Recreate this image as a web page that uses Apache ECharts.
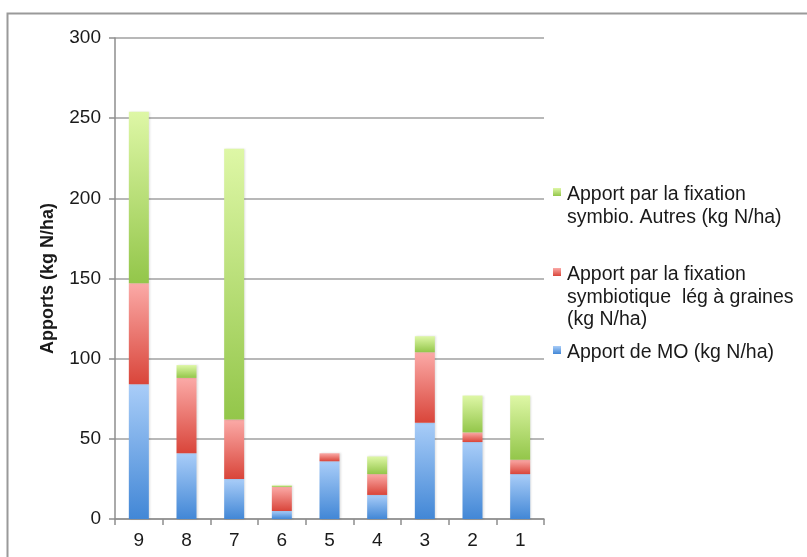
<!DOCTYPE html>
<html>
<head>
<meta charset="utf-8">
<script src="https://cdn.jsdelivr.net/npm/echarts@6/dist/echarts.min.js"></script>
<style>
  html, body { margin: 0; padding: 0; background: #fff; }
  #chart { width: 807px; height: 557px; }
</style>
</head>
<body>
<div id="chart"></div>
<script>
// Parcels, listed from 9 down to 1
const categories = ['9', '8', '7', '6', '5', '4', '3', '2', '1'];

// Nitrogen inputs (kg N/ha) stacked per parcel
const apportMO      = [84, 41, 25, 5, 36, 15, 60, 48, 28];
const fixLegGraines = [63, 47, 37, 15, 5, 13, 44, 6, 9];
const fixAutres     = [107, 8, 169, 1, 0, 11, 10, 23, 40];

const seriesNames = [
  'Apport de MO (kg N/ha)',
  'Apport par la fixation\nsymbiotique  lég à graines\n(kg N/ha)',
  'Apport par la fixation\nsymbio. Autres (kg N/ha)'
];

const yTicks = { min: 0, max: 300, interval: 50 };

const FONT = '"Liberation Sans", Arial, sans-serif';

function grad(top, bottom) {
  return new echarts.graphic.LinearGradient(0, 0, 0, 1, [
    { offset: 0, color: top },
    { offset: 1, color: bottom }
  ]);
}

const palettes = [
  { top: '#a9cdf8', bottom: '#4287d6' },
  { top: '#fbaaa7', bottom: '#d9453a' },
  { top: '#def7a6', bottom: '#93c64a' }
];

const values = [apportMO, fixLegGraines, fixAutres];

const series = values.map((data, i) => ({
  name: seriesNames[i],
  type: 'bar',
  stack: 'total',
  barWidth: 20,
  data: data,
  itemStyle: {
    color: grad(palettes[i].top, palettes[i].bottom),
    shadowColor: 'rgba(0,0,0,0.12)',
    shadowBlur: 2,
    shadowOffsetX: 1
  }
}));

// Legend entries, drawn top-down: green, red, blue
const legendItems = [
  { idx: 2, y: 195, lines: ['Apport par la fixation', 'symbio. Autres (kg N/ha)'] },
  { idx: 1, y: 275, lines: ['Apport par la fixation', 'symbiotique  lég à graines', '(kg N/ha)'] },
  { idx: 0, y: 353, lines: ['Apport de MO (kg N/ha)'] }
];

const graphics = [
  {
    type: 'polyline',
    shape: { points: [[7.5, 557], [7.5, 13.5], [807, 13.5]] },
    style: { stroke: '#9a9a9a', lineWidth: 2, fill: null },
    silent: true
  }
];
legendItems.forEach(item => {
  graphics.push({
    type: 'rect',
    shape: { x: 553, y: item.y - 7, width: 8, height: 8 },
    style: { fill: grad(palettes[item.idx].top, palettes[item.idx].bottom) }
  });
  graphics.push({
    type: 'text',
    left: 567,
    top: item.y - 11.5,
    style: {
      text: item.lines.join('\n'),
      font: '19.5px ' + FONT,
      fill: '#1a1a1a',
      lineHeight: 22.5
    }
  });
});

const chart = echarts.init(document.getElementById('chart'), null, { renderer: 'canvas' });
chart.setOption({
  animation: false,
  backgroundColor: '#ffffff',
  grid: { left: 115, top: 38, right: 263, bottom: 38, containLabel: false },
  xAxis: {
    type: 'category',
    data: categories,
    axisLine: { lineStyle: { color: '#8e8e8e', width: 1.5 } },
    axisTick: { show: true, length: 6, alignWithLabel: false, lineStyle: { color: '#8e8e8e', width: 1.5 } },
    axisLabel: { color: '#1a1a1a', fontSize: 19, fontFamily: FONT, margin: 12 }
  },
  yAxis: {
    type: 'value',
    min: yTicks.min,
    max: yTicks.max,
    interval: yTicks.interval,
    name: 'Apports (kg N/ha)',
    nameLocation: 'middle',
    nameGap: 58,
    nameTextStyle: { color: '#1a1a1a', fontSize: 18, fontWeight: 'bold', fontFamily: FONT },
    axisLine: { show: true, lineStyle: { color: '#8e8e8e', width: 1.5 } },
    axisTick: { show: true, length: 6, lineStyle: { color: '#8e8e8e', width: 1.5 } },
    axisLabel: { color: '#1a1a1a', fontSize: 19, fontFamily: FONT, margin: 14 },
    splitLine: { show: true, lineStyle: { color: '#a0a0a0', width: 1.5 } }
  },
  series: series,
  graphic: graphics
});
</script>
</body>
</html>
